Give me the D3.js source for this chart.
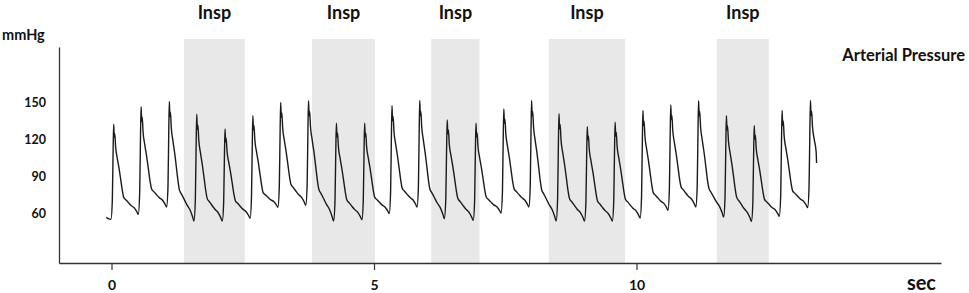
<!DOCTYPE html>
<html>
<head>
<meta charset="utf-8">
<script src="https://cdn.jsdelivr.net/npm/d3@7"></script>
<style>
  body { margin: 0; background: #fff; }
  text { font-family: Lato, "Open Sans", sans-serif; font-weight: bold; fill: #111; }
</style>
</head>
<body>
<div id="chart"></div>
<script>
// Beat onsets (sec), systolic peaks and diastolic troughs (mmHg)
const beatOnset = [-0.01, 0.51, 1.05, 1.57, 2.11, 2.64, 3.17, 3.70, 4.23, 4.77, 5.29, 5.82, 6.34,
  6.89, 7.42, 7.95, 8.47, 9.01, 9.54, 10.07, 10.60, 11.13, 11.66, 12.19, 12.72, 13.26];
const systolic = [132.4, 146.7, 150.8, 140.5, 128.6, 139.4, 150.0, 151.4, 133.2, 133.2, 147.5, 151.6, 135.9,
  133.2, 144.9, 151.6, 140.9, 130.5, 134.0, 143.5, 148.1, 151.4, 139.4, 131.3, 143.5, 151.6];
const diastolic = [55.5, 59.4, 65.4, 54.0, 54.0, 56.2, 65.1, 66.8, 54.0, 55.1, 60.0, 65.4, 55.9,
  54.5, 60.5, 65.4, 54.0, 54.0, 54.0, 56.4, 62.7, 65.4, 57.2, 53.7, 57.8, 64.9];

// Shape of one pulse read from a single beat: [fraction of cycle, fraction of pulse height]
const beatShape = [[0, 0], [0.05, 0.2], [0.08, 0.75], [0.10, 1.0], [0.12, 0.86], [0.14, 0.9],
  [0.17, 0.76], [0.23, 0.64], [0.30, 0.52], [0.36, 0.40], [0.42, 0.28], [0.47, 0.21], [0.55, 0.18],
  [0.63, 0.15], [0.74, 0.11], [0.85, 0.08], [0.95, 0.03]];

const traceStart = [[-0.10, 57.0], [-0.05, 55.8]];
const traceEnd = [13.43, 101];

// Inspiration periods (sec)
const inspStart = [1.38, 3.82, 6.09, 8.33, 11.53];
const inspEnd = [2.54, 5.02, 7.01, 9.78, 12.52];

const xTicks = [0, 5, 10];
const yTicks = [60, 90, 120, 150];

const W = 969, H = 293;
const svg = d3.select("#chart").append("svg")
  .attr("width", W)
  .attr("height", H);

const x = d3.scaleLinear().domain([-1, 15.8]).range([59, 941]);
const y = d3.scaleLinear().domain([20, 195]).range([263, 47]);

// Shaded inspiration bands
const bandTop = 39;
svg.selectAll("rect.insp")
  .data(inspStart)
  .enter()
  .append("rect")
  .attr("class", "insp")
  .attr("x", (d) => x(d))
  .attr("y", bandTop)
  .attr("width", (d, i) => x(inspEnd[i]) - x(d))
  .attr("height", y.range()[0] - bandTop)
  .attr("fill", "#e8e8e8");

svg.selectAll("text.insp")
  .data(inspStart)
  .enter()
  .append("text")
  .attr("class", "insp")
  .attr("x", (d, i) => (x(d) + x(inspEnd[i])) / 2)
  .attr("y", 19)
  .attr("text-anchor", "middle")
  .style("font-size", "18px")
  .text("Insp");

// Build the pressure trace beat by beat
const trace = traceStart.slice();
beatOnset.forEach((t0, i) => {
  const last = i === beatOnset.length - 1;
  const t1 = last ? t0 + (t0 - beatOnset[i - 1]) : beatOnset[i + 1];
  const d0 = diastolic[i];
  const d1 = last ? d0 : diastolic[i + 1];
  beatShape.forEach(([u, f]) => {
    const t = t0 + u * (t1 - t0);
    if (t > traceEnd[0]) return;
    const base = d0 + (d1 - d0) * u;
    trace.push([t, base + (systolic[i] - base) * f]);
  });
});
trace.push(traceEnd);

const line = d3.line()
  .x((d) => x(d[0]))
  .y((d) => y(d[1]))
  .curve(d3.curveMonotoneX);

svg.append("path")
  .datum(trace)
  .attr("d", line)
  .attr("fill", "none")
  .attr("stroke", "#1a1a1a")
  .attr("stroke-width", 1.4)
  .attr("stroke-linejoin", "round");

// Axes
const xAxis = svg.append("g")
  .attr("transform", `translate(0,${y.range()[0]})`)
  .call(d3.axisBottom(x).tickValues(xTicks).tickSize(7).tickSizeOuter(0).tickPadding(10));
xAxis.select(".domain").attr("stroke", "#333").attr("stroke-width", 1.5);
xAxis.selectAll(".tick line").attr("stroke", "#333").attr("stroke-width", 1.2);
xAxis.selectAll(".tick text")
  .style("font-size", "14px")
  .style("font-family", "Lato, sans-serif")
  .style("font-weight", "bold")
  .attr("fill", "#111");

const yAxis = svg.append("g")
  .attr("transform", `translate(${x.range()[0]},0)`)
  .call(d3.axisLeft(y).tickValues(yTicks).tickSize(0).tickSizeOuter(0).tickPadding(13));
yAxis.select(".domain").attr("stroke", "#333").attr("stroke-width", 1.3);
yAxis.selectAll(".tick text")
  .style("font-size", "12.5px")
  .style("font-family", "Lato, sans-serif")
  .style("font-weight", "bold")
  .attr("fill", "#111");

// Labels
svg.append("text")
  .attr("x", 2)
  .attr("y", 40)
  .style("font-size", "14.5px")
  .text("mmHg");

svg.append("text")
  .attr("x", 936)
  .attr("y", 290)
  .attr("text-anchor", "end")
  .style("font-size", "20px")
  .text("sec");

svg.append("text")
  .attr("x", 965)
  .attr("y", 61)
  .attr("text-anchor", "end")
  .style("font-size", "16.5px")
  .text("Arterial Pressure");
</script>
</body>
</html>
